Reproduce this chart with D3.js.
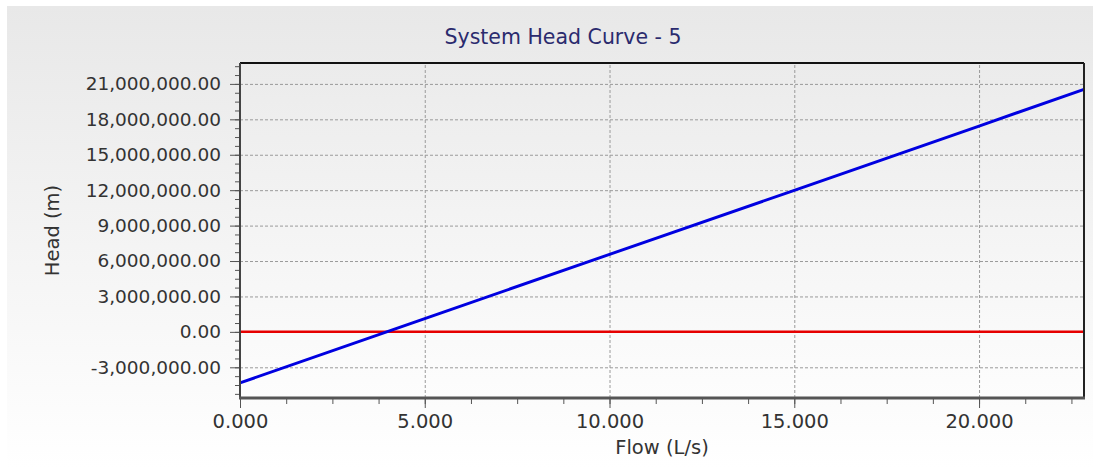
<!doctype html>
<meta charset="utf-8">
<html lang="en">
<head>
<style>
  body { margin: 0; background: #fff; }
  svg text { font-family: "DejaVu Sans", Verdana, sans-serif; }
  .grid line { stroke: #9a9a9a; stroke-width: 1px; stroke-dasharray: 3,2; }
  .grid path { display: none; }
  .axis path { display: none; }
  .axis line { stroke: #555; stroke-width: 1px; }
  .axis text { fill: #333; font-size: 18.5px; }
  .xaxis text { font-size: 19.5px; }
</style>
</head>
<body>
<script src="https://cdn.jsdelivr.net/npm/d3@7"></script>
<script>
// data
var flow = [0, 5, 10, 15, 20, 22.84];
var head = [-4320000, 1120000, 6560000, 11990000, 17430000, 20540000];
var zeroFlow = [0, 22.84];
var zeroHead = [0, 0];
var xTicks = [0, 5, 10, 15, 20];
var yTicks = [-3000000, 0, 3000000, 6000000, 9000000, 12000000, 15000000, 18000000, 21000000];

var W = 1093, H = 468;
var pLeft = 240, pRight = 1084, pTop = 63, pBottom = 398;

var x = d3.scaleLinear().domain([0, 22.84]).range([pLeft, pRight]);
var y = d3.scaleLinear().domain([-5600000, 22770000]).range([pBottom, pTop]);

// plain hyphen for negatives, like the original
var fmtY = d3.formatLocale({decimal: ".", thousands: ",", grouping: [3], currency: ["", ""], minus: "-"}).format(",.2f");

var svg = d3.select("body").append("svg")
    .attr("width", W)
    .attr("height", H);

var defs = svg.append("defs");
var g1 = defs.append("linearGradient").attr("id", "bg").attr("x1", 0).attr("y1", 0).attr("x2", 0).attr("y2", 1);
g1.append("stop").attr("offset", "0%").attr("stop-color", "#e8e8e8");
g1.append("stop").attr("offset", "100%").attr("stop-color", "#ffffff");
var g2 = defs.append("linearGradient").attr("id", "plotbg").attr("x1", 0).attr("y1", 0).attr("x2", 0).attr("y2", 1);
g2.append("stop").attr("offset", "0%").attr("stop-color", "#ebebeb");
g2.append("stop").attr("offset", "100%").attr("stop-color", "#fdfdfd");

// panel background
svg.append("rect")
    .attr("x", 7).attr("y", 6)
    .attr("width", W - 7).attr("height", H - 6)
    .attr("fill", "url(#bg)");

// plot background
svg.append("rect")
    .attr("x", pLeft).attr("y", pTop)
    .attr("width", pRight - pLeft).attr("height", pBottom - pTop)
    .attr("fill", "url(#plotbg)");

// grid lines
svg.append("g")
    .attr("class", "grid")
    .attr("transform", "translate(" + pLeft + ",0)")
    .call(d3.axisLeft(y).tickValues(yTicks).tickSize(-(pRight - pLeft)).tickFormat(""));

svg.append("g")
    .attr("class", "grid")
    .attr("transform", "translate(0," + pBottom + ")")
    .call(d3.axisBottom(x).tickValues(xTicks.slice(1)).tickSize(-(pBottom - pTop)).tickFormat(""));

// minor ticks
var yMinor = d3.range(-5250000, 22770000, 750000);
svg.append("g")
    .attr("class", "axis")
    .attr("transform", "translate(" + pLeft + ",0)")
    .call(d3.axisLeft(y).tickValues(yMinor).tickSize(5).tickFormat(""));

var xMinor = d3.range(0, 22.84, 1.25);
svg.append("g")
    .attr("class", "axis")
    .attr("transform", "translate(0," + pBottom + ")")
    .call(d3.axisBottom(x).tickValues(xMinor).tickSize(6).tickFormat(""));

// major ticks + labels
svg.append("g")
    .attr("class", "axis")
    .attr("transform", "translate(" + pLeft + ",0)")
    .call(d3.axisLeft(y).tickValues(yTicks).tickSize(10).tickPadding(9).tickFormat(fmtY));

svg.append("g")
    .attr("class", "axis xaxis")
    .attr("transform", "translate(0," + pBottom + ")")
    .call(d3.axisBottom(x).tickValues(xTicks).tickSize(10).tickPadding(6).tickFormat(d3.format(".3f")));

// curves
var line = d3.line()
    .x(function(d) { return x(d[0]); })
    .y(function(d) { return y(d[1]); });

svg.append("path")
    .datum(d3.zip(zeroFlow, zeroHead))
    .attr("fill", "none")
    .attr("stroke", "#e60000")
    .attr("stroke-width", 2.5)
    .attr("d", line);

svg.append("path")
    .datum(d3.zip(flow, head))
    .attr("fill", "none")
    .attr("stroke", "#0000e0")
    .attr("stroke-width", 3)
    .attr("d", line);

// frame
svg.append("line").attr("x1", pLeft).attr("x2", pRight).attr("y1", pTop).attr("y2", pTop)
    .attr("stroke", "#111").attr("stroke-width", 2);
svg.append("line").attr("x1", pRight).attr("x2", pRight).attr("y1", pTop).attr("y2", pBottom)
    .attr("stroke", "#222").attr("stroke-width", 2);
svg.append("line").attr("x1", pLeft).attr("x2", pLeft).attr("y1", pTop).attr("y2", pBottom + 1)
    .attr("stroke", "#444").attr("stroke-width", 2);
svg.append("line").attr("x1", pLeft - 1).attr("x2", pRight + 1).attr("y1", pBottom).attr("y2", pBottom)
    .attr("stroke", "#555").attr("stroke-width", 3);

// titles
svg.append("text")
    .attr("x", 563).attr("y", 44)
    .attr("text-anchor", "middle")
    .attr("fill", "#2b2b6e")
    .style("font-size", "20.5px")
    .text("System Head Curve - 5");

svg.append("text")
    .attr("x", (pLeft + pRight) / 2).attr("y", 454)
    .attr("text-anchor", "middle")
    .attr("fill", "#333")
    .style("font-size", "19.5px")
    .text("Flow (L/s)");

svg.append("text")
    .attr("transform", "translate(59," + ((pTop + pBottom) / 2) + ") rotate(-90)")
    .attr("text-anchor", "middle")
    .attr("fill", "#333")
    .style("font-size", "19.5px")
    .text("Head (m)");
</script>
</body>
</html>
